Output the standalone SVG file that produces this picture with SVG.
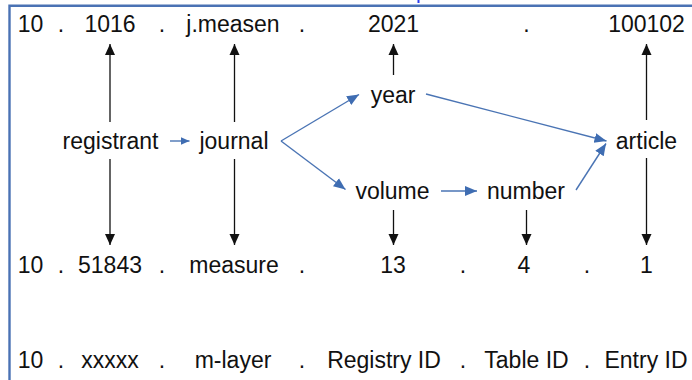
<svg xmlns="http://www.w3.org/2000/svg" width="692" height="380" viewBox="0 0 692 380">
<style>
text{font-family:"Liberation Sans",Arial,sans-serif;font-size:23px;fill:#111;text-anchor:middle}
.k{stroke:#111;stroke-width:1.3;fill:none}
.b{stroke:#4a74b4;stroke-width:1.4;fill:none}
</style>
<defs>
<marker id="ak" markerUnits="userSpaceOnUse" markerWidth="12" markerHeight="12" viewBox="0 0 12 12" refX="11" refY="6" orient="auto"><path d="M0,1 L11,6 L0,11 Z" fill="#111"/></marker>
<marker id="ab" markerUnits="userSpaceOnUse" markerWidth="13" markerHeight="12" viewBox="0 0 13 12" refX="12" refY="6" orient="auto"><path d="M0,1 L12,6 L0,11 Z" fill="#3f6db2"/></marker>
<marker id="abs" markerUnits="userSpaceOnUse" markerWidth="10" markerHeight="10" viewBox="0 0 10 10" refX="9" refY="5" orient="auto"><path d="M0,1 L9,5 L0,9 Z" fill="#3f6db2"/></marker>
</defs>
<rect x="0" y="0" width="692" height="380" fill="#fff"/>
<g id="frame">
<path d="M9.5,380 V5.8 H692" stroke="#4a72b4" stroke-width="2.4" fill="none"/>
<rect x="417.5" y="0" width="2" height="3" fill="#2b3cf0"/>
</g>
<g id="row-top">
<text x="30.5" y="32">10</text><text x="61" y="32">.</text>
<text x="110" y="32">1016</text><text x="162" y="32">.</text>
<text x="233" y="32">j.measen</text><text x="302" y="32">.</text>
<text x="393.5" y="32">2021</text><text x="526.5" y="32">.</text>
<text x="646.5" y="32">100102</text>
</g>
<g id="row-doi">
<text x="30.5" y="273">10</text><text x="61" y="273">.</text>
<text x="110" y="273">51843</text><text x="162" y="273">.</text>
<text x="234" y="273">measure</text><text x="302" y="273">.</text>
<text x="393" y="273">13</text><text x="463" y="273">.</text>
<text x="524" y="273">4</text><text x="587" y="273">.</text>
<text x="646.5" y="273">1</text>
</g>
<g id="row-legend">
<text x="30.5" y="368">10</text><text x="61" y="368">.</text>
<text x="110" y="368">xxxxx</text><text x="162" y="368">.</text>
<text x="233" y="368">m-layer</text><text x="302" y="368">.</text>
<text x="384" y="368">Registry ID</text><text x="463" y="368">.</text>
<text x="526.5" y="368">Table ID</text><text x="587" y="368">.</text>
<text x="646" y="368">Entry ID</text>
</g>
<g id="node-registrant"><text x="110.5" y="149">registrant</text></g>
<g id="node-journal"><text x="234" y="149">journal</text></g>
<g id="node-year"><text x="393" y="103">year</text></g>
<g id="node-volume"><text x="392.5" y="199">volume</text></g>
<g id="node-number"><text x="526" y="199">number</text></g>
<g id="node-article"><text x="646.5" y="149">article</text></g>
<g id="connectors">
<path class="k" d="M110,122 V44" marker-end="url(#ak)"/>
<path class="k" d="M110,159 V245" marker-end="url(#ak)"/>
<path class="k" d="M234.5,122 V44" marker-end="url(#ak)"/>
<path class="k" d="M234.5,159 V245" marker-end="url(#ak)"/>
<path class="k" d="M393.5,75 V44" marker-end="url(#ak)"/>
<path class="k" d="M393.5,210 V245" marker-end="url(#ak)"/>
<path class="k" d="M526.5,210 V245" marker-end="url(#ak)"/>
<path class="k" d="M646.5,120 V44" marker-end="url(#ak)"/>
<path class="k" d="M646.5,158 V245" marker-end="url(#ak)"/>
<path class="b" d="M170,141 H189.5" marker-end="url(#abs)"/>
<path class="b" d="M281,141 L359,94.5" marker-end="url(#ab)"/>
<path class="b" d="M281,141 L345.5,189.5" marker-end="url(#ab)"/>
<path class="b" d="M426,94 L606.5,141" marker-end="url(#ab)"/>
<path class="b" d="M441,191 H477" marker-end="url(#ab)"/>
<path class="b" d="M576,190 L606,143.5" marker-end="url(#ab)"/>
</g>
</svg>
